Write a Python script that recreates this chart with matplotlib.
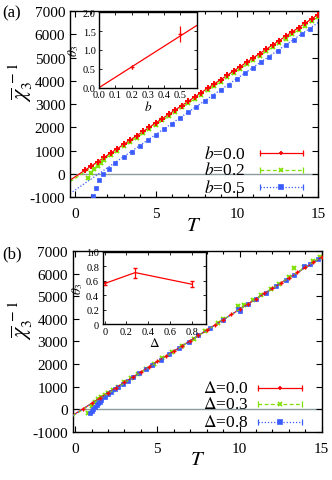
import matplotlib
matplotlib.use("Agg")
import matplotlib.pyplot as plt
from matplotlib.ticker import MultipleLocator

plt.rcParams["font.family"] = ["Liberation Serif", "DejaVu Serif"]
plt.rcParams["mathtext.fontset"] = "stix"
plt.rcParams["axes.unicode_minus"] = False

RED = "#ff0000"
GREEN = "#7ee000"
BLUE = "#3a5cff"
ZERO_GRAY = "#8a9c9c"

# ---------------- panel (a): b dependence ----------------
a_labels = ["0.0", "0.2", "0.5"]

a_T_b00 = [0.6, 1.0, 1.4, 1.8, 2.2, 2.6, 3.0, 3.4, 3.8, 4.2, 4.6, 5.0, 5.4, 5.8,
           6.2, 6.6, 7.0, 7.4, 7.8, 8.2, 8.6, 9.0, 9.4, 9.8, 10.2, 10.6, 11.0,
           11.4, 11.8, 12.2, 12.6, 13.0, 13.4, 13.8, 14.2, 14.6, 15.0]
a_chi_b00 = [149, 335, 521, 707, 893, 1079, 1265, 1451, 1637, 1823, 2009, 2195,
             2381, 2567, 2753, 2939, 3125, 3311, 3497, 3683, 3869, 4055, 4241,
             4427, 4613, 4799, 4985, 5171, 5357, 5543, 5729, 5915, 6101, 6287,
             6473, 6659, 6845]

a_T_b02 = [0.8, 1.0, 1.2, 1.4, 1.6, 1.8, 2.2, 2.6, 3.0, 3.4, 3.8, 4.2, 4.6, 5.0,
           5.4, 5.8, 6.2, 6.6, 7.0, 7.4, 7.8, 8.2, 8.6, 9.0, 9.4, 9.8, 10.2,
           10.6, 11.0, 11.4, 11.8, 12.2, 12.6, 13.0, 13.4, 13.8, 14.2, 14.6, 15.0]
a_chi_b02 = [-170, 30, 200, 350, 480, 600, 810, 1004, 1189, 1374, 1559, 1745,
             1930, 2115, 2300, 2485, 2671, 2856, 3041, 3226, 3411, 3597, 3782,
             3967, 4152, 4337, 4523, 4708, 4893, 5078, 5263, 5449, 5634, 5819,
             6004, 6189, 6375, 6560, 6745]

a_T_b05 = [1.1, 1.3, 1.5, 1.75, 2.1, 2.5, 3.0, 3.5, 4.0, 4.5, 5.0, 5.5, 6.0,
           6.5, 7.0, 7.5, 8.0, 8.5, 9.0, 9.5, 10.0, 10.5, 11.0, 11.5, 12.0,
           12.5, 13.0, 13.5, 14.0, 14.5]
a_chi_b05 = [-950, -590, -280, 10, 230, 450, 720, 960, 1200, 1440, 1680, 1920,
             2160, 2400, 2640, 2880, 3120, 3360, 3600, 3840, 4080, 4320, 4560,
             4800, 5040, 5280, 5520, 5760, 6000, 6240]

# linear fits, given by their end points
a_fit_T = [-0.3, 15.0]
a_fit_b00 = [-270, 6845]
a_fit_b02 = [-340, 6745]
a_fit_b05 = [-844, 6500]

# inset (a): theta_3 vs b
a_ins_b = [0.2, 0.5]
a_ins_theta = [0.54, 1.42]
a_ins_err = [0.06, 0.21]
a_ins_fit_b = [0.0, 0.6]
a_ins_fit_theta = [0.0, 1.65]
a_ins_xticks = [0.0, 0.1, 0.2, 0.3, 0.4, 0.5]
a_ins_xlabels = ["0.0", "0.1", "0.2", "0.3", "0.4", "0.5"]
a_ins_yticks = [0.0, 0.5, 1.0, 1.5, 2.0]
a_ins_ylabels = ["0.0", "0.5", "1.0", "1.5", "2.0"]

# ---------------- panel (b): Delta dependence ----------------
b_labels = ["0.0", "0.3", "0.8"]

b_T_d00 = [0.5, 1.0, 1.5, 2.0, 2.5, 3.0, 3.5, 4.0, 4.5, 5.0, 5.5, 6.0, 6.5,
           7.0, 7.5, 8.0, 8.5, 9.0, 9.5, 10.0, 10.5, 11.0, 11.5, 12.0, 12.5,
           13.0, 13.5, 14.0, 14.5, 15.0]
b_chi_d00 = [32, 263, 495, 726, 958, 1189, 1421, 1652, 1884, 2115, 2347, 2578,
             2810, 3041, 3273, 3504, 3736, 3967, 4199, 4430, 4662, 4893, 5125,
             5356, 5588, 5819, 6051, 6282, 6514, 6745]

b_T_d03 = [0.8, 1.0, 1.2, 1.4, 1.6, 1.8, 2.0, 2.3, 2.6, 3.0, 3.4, 3.8, 4.3,
           4.8, 5.3, 5.9, 6.5, 7.2, 7.9, 8.7, 9.0, 9.9, 10.3, 10.8, 11.3, 11.9,
           12.4, 13.0, 13.3, 13.9, 14.5, 14.9]
b_chi_d03 = [-160, 130, 330, 450, 540, 630, 720, 860, 1000, 1190, 1380, 1560,
             1790, 2020, 2250, 2530, 2810, 3130, 3460, 3830, 3990, 4560, 4600,
             4830, 5040, 5330, 5550, 5860, 6230, 6280, 6550, 6720]

b_T_d08 = [0.9, 1.0, 1.1, 1.2, 1.3, 1.4, 1.5, 1.6, 1.8, 2.0, 2.2, 2.4, 2.6,
           2.9, 3.2, 3.5, 3.9, 4.3, 4.7, 5.2, 5.7, 6.3, 6.9, 7.5, 8.2, 9.0,
           9.9, 10.0, 10.5, 11.0, 11.6, 12.2, 12.8, 13.3, 13.9, 14.3, 14.8]
b_chi_d08 = [-180, -90, 10, 100, 180, 260, 330, 400, 540, 660, 770, 880, 990,
             1130, 1270, 1410, 1600, 1790, 1970, 2200, 2440, 2720, 2990, 3270,
             3590, 3970, 4450, 4330, 4640, 4900, 5150, 5450, 5730, 5960, 6350,
             6440, 6660]

b_fit_T = [-0.15, 15.0]
b_fit_d00 = [-269, 6730]
b_fit_d03 = [-300, 6745]
b_fit_d08 = [-280, 6735]

# inset (b): theta_3 vs Delta
b_ins_delta = [0.0, 0.28, 0.8]
b_ins_theta = [0.56, 0.71, 0.55]
b_ins_err = [0.02, 0.07, 0.04]
b_ins_xticks = [0.0, 0.2, 0.4, 0.6, 0.8]
b_ins_xlabels = ["0", "0.2", "0.4", "0.6", "0.8"]
b_ins_yticks = [0.0, 0.2, 0.4, 0.6, 0.8, 1.0]
b_ins_ylabels = ["0", "0.2", "0.4", "0.6", "0.8", "1.0"]


def style_main(ax, xlo, ylab_x):
    ax.set_xlim(xlo, 15)
    ax.set_ylim(-1000, 7000)
    ax.xaxis.set_major_locator(MultipleLocator(5))
    ax.xaxis.set_minor_locator(MultipleLocator(1))
    ax.yaxis.set_major_locator(MultipleLocator(1000))
    ax.tick_params(which="both", direction="in", top=True, right=True,
                   labelsize=11, width=0.8)
    ax.tick_params(which="major", length=4)
    ax.tick_params(which="minor", length=2.5)
    ax.tick_params(axis="x", pad=7)
    for s in ax.spines.values():
        s.set_linewidth(1.0)
    ax.axhline(0, color=ZERO_GRAY, lw=1.0, zorder=1)
    ax.set_xlabel("$T$", fontsize=15, labelpad=-3)
    ax.set_ylabel(r"$\overline{\chi}_3^{\;-1}$", fontsize=16)
    ax.yaxis.set_label_coords(ylab_x, 0.62)


def legend_rows(ax, labels, ys, markers, colors, styles, text_x, x0, x1):
    for lab, y, m, c, ls in zip(labels, ys, markers, colors, styles):
        ax.text(text_x, y, lab, transform=ax.transAxes, ha="right",
                va="center", fontsize=12.5)
        ax.plot([x0, x1], [y, y], transform=ax.transAxes, color=c, ls=ls,
                lw=0.9)
        ax.plot([x0, x1], [y, y], transform=ax.transAxes, color=c, ls="none",
                marker="|", ms=5, mew=0.9)
        ax.plot([(x0 + x1) / 2], [y], transform=ax.transAxes, color=c,
                marker=m, ms=3.5, mew=1.2)


def style_inset(ax, xticks, xlabels, yticks, ylabels):
    ax.set_xticks(xticks, xlabels)
    ax.set_yticks(yticks, ylabels)
    ax.tick_params(which="both", direction="in", top=True, right=True,
                   labelsize=7.5, length=2.5, width=0.6)
    ax.tick_params(axis="x", pad=2)
    ax.tick_params(axis="y", pad=2.5)
    for s in ax.spines.values():
        s.set_linewidth(1.0)


fig = plt.figure(figsize=(3.32, 4.81), dpi=100)

# ---- panel (a)
ax_a = fig.add_axes([0.211, 0.588, 0.747, 0.387])
style_main(ax_a, -0.3, -0.141)
ax_a.plot(a_fit_T, a_fit_b00, color=RED, lw=0.9, ls="-", zorder=2)
ax_a.plot(a_fit_T, a_fit_b02, color=GREEN, lw=0.9, ls=(0, (3, 2)), zorder=2)
ax_a.plot(a_fit_T, a_fit_b05, color=BLUE, lw=0.9, ls=(0, (1, 1.5)), zorder=2)
ax_a.plot(a_T_b00, a_chi_b00, color=RED, ls="none", marker="+", ms=4, mew=1.4, zorder=5)
ax_a.plot(a_T_b02, a_chi_b02, color=GREEN, ls="none", marker="x", ms=3.5, mew=1.4, zorder=4)
ax_a.plot(a_T_b05, a_chi_b05, color=BLUE, ls="none", marker="s", ms=3.5, mew=0.5, zorder=3)
legend_rows(ax_a, ["$b$=" + s for s in a_labels], [0.236, 0.147, 0.052],
            ["+", "x", "s"], [RED, GREEN, BLUE],
            ["-", (0, (3, 2)), (0, (1, 1.5))], 0.706, 0.766, 0.938)
fig.text(0.008, 0.972, "(a)", fontsize=12, va="center")

ins_a = fig.add_axes([0.299, 0.816, 0.293, 0.156])
ins_a.plot(a_ins_fit_b, a_ins_fit_theta, color=RED, lw=0.9)
ins_a.errorbar(a_ins_b, a_ins_theta, yerr=a_ins_err, color=RED, ls="none",
               elinewidth=0.9, capsize=0, marker="+", ms=3, mew=0.9)
ins_a.set_xlim(0, 0.6)
ins_a.set_ylim(0, 2.0)
style_inset(ins_a, a_ins_xticks, a_ins_xlabels, a_ins_yticks, a_ins_ylabels)
ins_a.set_xlabel("$b$", fontsize=9.5, labelpad=0)
ins_a.set_ylabel(r"$\theta_3$", fontsize=9.5, labelpad=1)

# ---- panel (b)
ax_b = fig.add_axes([0.219, 0.100, 0.750, 0.376])
style_main(ax_b, -0.15, -0.151)
ax_b.plot(b_fit_T, b_fit_d00, color=RED, lw=0.9, ls="-", zorder=4)
ax_b.plot(b_fit_T, b_fit_d03, color=GREEN, lw=0.9, ls=(0, (3, 2)), zorder=4)
ax_b.plot(b_fit_T, b_fit_d08, color=BLUE, lw=0.9, ls=(0, (1, 1.5)), zorder=4)
ax_b.plot(b_T_d00, b_chi_d00, color=RED, ls="none", marker="+", ms=3, mew=1.0, zorder=5)
ax_b.plot(b_T_d03, b_chi_d03, color=GREEN, ls="none", marker="x", ms=3.5, mew=1.4, zorder=2)
ax_b.plot(b_T_d08, b_chi_d08, color=BLUE, ls="none", marker="s", ms=3.5, mew=0.5, zorder=3)
legend_rows(ax_b, [r"$\Delta$=" + s for s in b_labels], [0.241, 0.153, 0.055],
            ["+", "x", "s"], [RED, GREEN, BLUE],
            ["-", (0, (3, 2)), (0, (1, 1.5))], 0.704, 0.745, 0.92)
fig.text(0.008, 0.472, "(b)", fontsize=12, va="center")

ins_b = fig.add_axes([0.309, 0.324, 0.311, 0.151])
ins_b.errorbar(b_ins_delta, b_ins_theta, yerr=b_ins_err, color=RED,
               lw=0.9, elinewidth=0.9, capsize=1.5)
ins_b.set_xlim(-0.02, 0.93)
ins_b.set_ylim(0, 1.0)
style_inset(ins_b, b_ins_xticks, b_ins_xlabels, b_ins_yticks, b_ins_ylabels)
ins_b.set_xlabel(r"$\Delta$", fontsize=9.5, labelpad=0)
ins_b.set_ylabel(r"$\theta_3$", fontsize=9.5, labelpad=1)

fig.savefig("out.png", dpi=100)
